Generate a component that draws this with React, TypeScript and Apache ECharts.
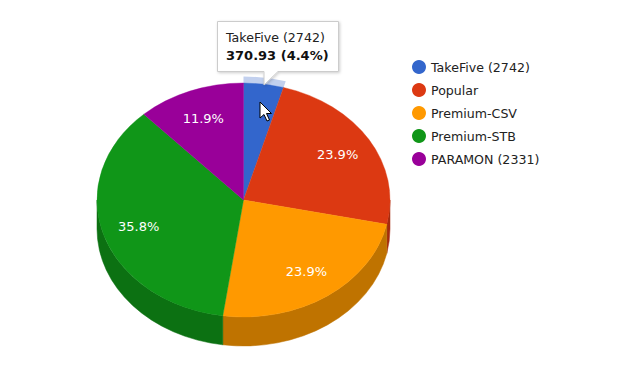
import React, { useEffect, useRef } from "react";
import * as echarts from "echarts";

const sliceNames = ["TakeFive (2742)", "Popular", "Premium-CSV", "Premium-STB", "PARAMON (2331)"];
const sliceValues = [370.93, 2015, 2015, 3018, 1003];
const topColors = ["#3366cc", "#dc3912", "#ff9900", "#109618", "#990099"];
const wallColors = ["#264d99", "#a52b0e", "#bf7300", "#0c7112", "#730073"];
const tooltipTitle = "TakeFive (2742)";
const tooltipValue = "370.93 (4.4%)";

const FONT = "'DejaVu Sans', sans-serif";
const CX = 243.5;
const CY = 200;
const RX = 146.5;
const RY = 117;
const DEPTH = 29;
const total = sliceValues.reduce((a, b) => a + b, 0);

const pt = (deg: number, k = 1, dy = 0): [number, number] => {
  const r = (deg * Math.PI) / 180;
  return [CX + RX * k * Math.sin(r), CY - RY * k * Math.cos(r) + dy];
};
const f = (p: [number, number]) => `${p[0].toFixed(2)} ${p[1].toFixed(2)}`;

const startOf = (i: number) => (sliceValues.slice(0, i).reduce((a, b) => a + b, 0) / total) * 360;

const renderSlice = (index: number) => (_params: any, api: any) => {
  const value = api.value(0);
  const a0 = startOf(index);
  const a1 = a0 + (value / total) * 360;
  const children: any[] = [];

  const w0 = Math.max(a0, 90);
  const w1 = Math.min(a1, 270);
  if (w1 > w0) {
    children.push({
      type: "path",
      shape: {
        pathData:
          `M ${f(pt(w0))} A ${RX} ${RY} 0 0 1 ${f(pt(w1))} ` +
          `L ${f(pt(w1, 1, DEPTH))} A ${RX} ${RY} 0 0 0 ${f(pt(w0, 1, DEPTH))} Z`,
      },
      style: { fill: wallColors[index], stroke: wallColors[index], lineWidth: 0.5 },
    });
  }

  if (index === 0) {
    const k = 1.055;
    children.push({
      type: "path",
      shape: {
        pathData:
          `M ${f(pt(a0))} A ${RX} ${RY} 0 0 1 ${f(pt(a1))} ` +
          `L ${f(pt(a1, k))} A ${RX * k} ${RY * k} 0 0 0 ${f(pt(a0, k))} Z`,
      },
      style: { fill: "#c2d0ee" },
    });
  }

  const large = a1 - a0 > 180 ? 1 : 0;
  children.push({
    type: "path",
    shape: {
      pathData: `M ${CX} ${CY} L ${f(pt(a0))} A ${RX} ${RY} 0 ${large} 1 ${f(pt(a1))} Z`,
    },
    style: { fill: topColors[index], stroke: topColors[index], lineWidth: 0.4 },
  });

  const share = (value / total) * 100;
  if (share > 5) {
    const [lx, ly] = pt((a0 + a1) / 2, 0.75);
    children.push({
      type: "text",
      z2: 10,
      style: {
        text: `${share.toFixed(1)}%`,
        x: lx,
        y: ly,
        align: "center",
        verticalAlign: "middle",
        fill: "#ffffff",
        font: `13px ${FONT}`,
      },
    });
  }
  return { type: "group", children };
};

export default function App() {
  const ref = useRef<HTMLDivElement>(null);
  useEffect(() => {
    const chart = echarts.init(ref.current!, undefined, { renderer: "svg" });
    chart.setOption({
      animation: false,
      backgroundColor: "#ffffff",
      legend: {
        orient: "vertical",
        left: 412,
        top: 60,
        padding: 0,
        itemWidth: 14,
        itemHeight: 14,
        itemGap: 9,
        icon: "circle",
        selectedMode: false,
        data: sliceNames,
        textStyle: { fontFamily: FONT, fontSize: 12.6, color: "#222222" },
      },
      series: sliceNames.map((name, i) => ({
        type: "custom",
        name,
        coordinateSystem: "none",
        silent: true,
        z: i,
        itemStyle: { color: topColors[i] },
        data: [[sliceValues[i]]],
        renderItem: renderSlice(i),
      })),
      graphic: [
        {
          type: "polygon",
          z: 100,
          shape: {
            points: [
              [217.5, 21.5],
              [338.5, 21.5],
              [338.5, 71.5],
              [278, 71.5],
              [264, 85],
              [264, 71.5],
              [217.5, 71.5],
            ],
          },
          style: {
            fill: "#ffffff",
            stroke: "#cccccc",
            lineWidth: 1,
            shadowColor: "rgba(0,0,0,0.2)",
            shadowBlur: 3,
            shadowOffsetX: 1,
            shadowOffsetY: 1,
          },
        },
        {
          type: "text",
          z: 101,
          style: { text: tooltipTitle, x: 226, y: 37, verticalAlign: "middle", fill: "#222222", font: `12.6px ${FONT}` },
        },
        {
          type: "text",
          z: 101,
          style: { text: tooltipValue, x: 226, y: 55, verticalAlign: "middle", fill: "#111111", font: `bold 13px ${FONT}` },
        },
        {
          type: "polygon",
          z: 102,
          shape: {
            points: [
              [260, 102],
              [260, 118],
              [264, 114.5],
              [267, 121],
              [269.5, 120],
              [266.5, 113.5],
              [271.5, 113.5],
            ],
          },
          style: { fill: "#ffffff", stroke: "#000000", lineWidth: 1 },
        },
      ],
    });
    return () => chart.dispose();
  }, []);
  return <div ref={ref} style={{ position: "fixed", left: 0, top: 0, width: 621, height: 378 }} />;
}
